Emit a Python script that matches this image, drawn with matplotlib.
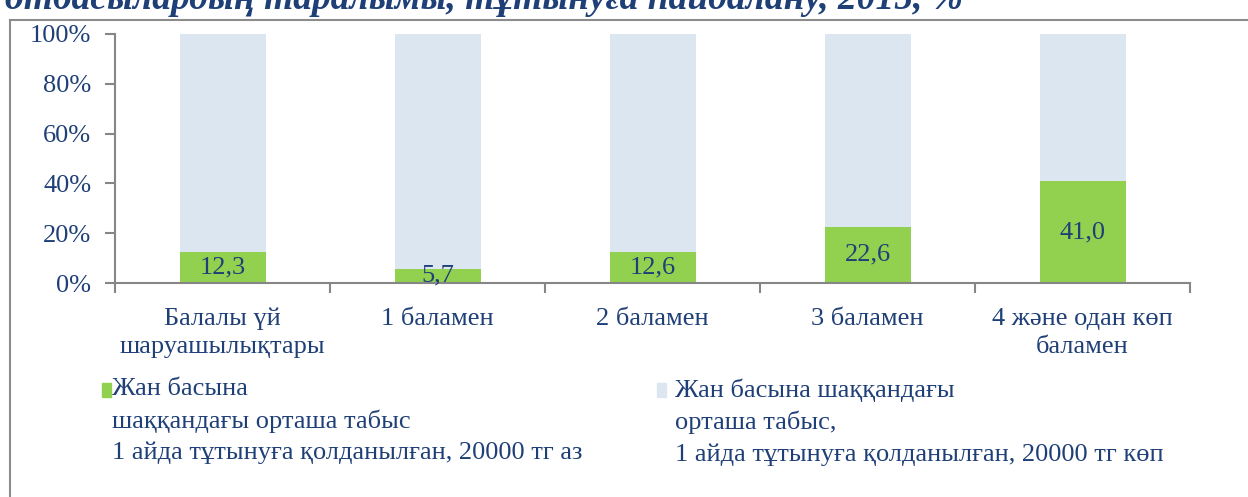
import numpy as np
import matplotlib
matplotlib.use("Agg")
import matplotlib.pyplot as plt
from matplotlib.lines import Line2D
from matplotlib.patches import Rectangle

plt.rcParams['font.family'] = ['Liberation Serif', 'DejaVu Serif']

# Данные
categories = ["Балалы үй\nшаруашылықтары", "1 баламен", "2 баламен",
              "3 баламен", "4 және одан көп\nбаламен"]
below_20000 = [12.3, 5.7, 12.6, 22.6, 41.0]
above_20000 = [100 - v for v in below_20000]
value_labels = ["12,3", "5,7", "12,6", "22,6", "41,0"]
legend_labels = ["Жан басына\nшаққандағы орташа табыс\n1 айда тұтынуға қолданылған, 20000 тг аз",
                 "Жан басына шаққандағы\nорташа табыс,\n1 айда тұтынуға қолданылған, 20000 тг көп"]
title = "отбасылардың таралымы, тұтынуға пайдалану, 2015, %"

green = "#92D050"
light = "#DCE6F1"
text_col = "#1F3F77"
axis_col = "#868686"
fs = 19

W, H = 1248, 497
fig = plt.figure(figsize=(W / 100, H / 100), dpi=100)
ax = fig.add_axes([115 / W, 1 - 283 / H, (1190 - 115) / W, (283 - 34) / H])

x = np.arange(len(categories))
ax.bar(x, below_20000, width=0.4, color=green)
ax.bar(x, above_20000, width=0.4, bottom=below_20000, color=light)

for xi, v, lab in zip(x, below_20000, value_labels):
    ax.text(xi, v / 2, lab, ha="center", va="center", fontsize=fs, color=text_col)

ax.set_xlim(-0.5, len(categories) - 0.5)
ax.set_ylim(0, 100)
ax.set_yticks(np.arange(0, 101, 20))
ax.set_yticklabels([f"{t}%" for t in range(0, 101, 20)], fontsize=fs, color=text_col)
ax.set_xticks(x)
ax.set_xticklabels(categories, fontsize=fs, color=text_col, linespacing=1.35)
ax.set_xticks(np.arange(-0.5, len(categories)), minor=True)
ax.tick_params(axis="x", which="major", length=0, pad=18)
ax.tick_params(axis="x", which="minor", length=7, color=axis_col, width=1.5)
ax.tick_params(axis="y", length=7, color=axis_col, width=1.5, pad=10)
for s in ["top", "right"]:
    ax.spines[s].set_visible(False)
for s in ["left", "bottom"]:
    ax.spines[s].set_color(axis_col)
    ax.spines[s].set_linewidth(1.5)

# Рамка
fig.add_artist(Line2D([10 / W, 10 / W], [0, 1 - 20 / H], color="#8C8C8C", lw=1.5))
fig.add_artist(Line2D([10 / W, 1], [1 - 20 / H, 1 - 20 / H], color="#8C8C8C", lw=1.5))

# Заголовок (обрезан сверху)
fig.text(5 / W, 1 - 9 / H, title, fontsize=27, fontweight="bold", fontstyle="italic",
         color=text_col, va="baseline", ha="left")

# Легенда
for (sx, tx), col, lab in zip([(102, 112), (657, 675)], [green, light], legend_labels):
    fig.add_artist(Rectangle((sx / W, 1 - 397 / H), 9 / W, 14 / H, color=col,
                             transform=fig.transFigure))
    fig.text(tx / W, 1 - 378 / H, lab, fontsize=fs, color=text_col, va="top",
             ha="left", linespacing=1.5)

fig.savefig("out.png", dpi=100)
